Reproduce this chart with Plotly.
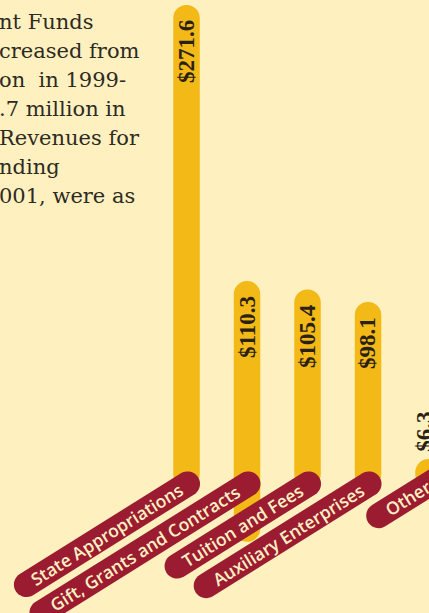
import math
import plotly.graph_objects as go

# ---------------- data ----------------
categories = ["State Appropriations", "Gift, Grants and Contracts",
              "Tuition and Fees", "Auxiliary Enterprises", "Other"]
values = [271.6, 110.3, 105.4, 98.1, 6.3]
value_labels = ["$271.6", "$110.3", "$105.4", "$98.1", "$6.3"]
intro_lines = ["nt Funds", "creased from", "on  in 1999-", ".7 million in",
               "Revenues for", "nding", "001, were as"]

# ---------------- style ----------------
W, H = 429, 613
BG = "#FEF1BF"
BAR = "#F3BA17"
PILL = "#9B1B30"
PILL_TEXT = "#FDF0C4"
INK = "#2A2116"
TEXT_INK = "#2E2A24"
bar_base = [-10, -42, -10, -10, -10]      # how far each stick runs under the tags
pill_len = [190, 243, 155, 192, 80]       # tag length (px, centre to centre of caps)
ANG = 32
R = 12.5
Y_RANGE = [-83.6, 274.5]
X_RANGE = [-3.083, 4.008]
px_per_unit = H / (Y_RANGE[1] - Y_RANGE[0])

x_idx = list(range(len(categories)))

fig = go.Figure()
fig.add_trace(go.Bar(
    x=x_idx,
    y=[v - b for v, b in zip(values, bar_base)],
    base=bar_base,
    width=0.438,
    marker=dict(color=BAR, cornerradius="50%", line=dict(width=0)),
    hoverinfo="skip",
))

# slanted tags
th = math.radians(ANG)
d = (math.cos(th), math.sin(th))
p = (-math.sin(th), math.cos(th))
for i, L in enumerate(pill_len):
    E = (1.0, -14.0)
    if i == len(pill_len) - 1:
        E = (18.0, -3.4)   # last tag runs off the right edge
    S = (E[0] - L * d[0], E[1] - L * d[1])
    pts = []
    for k in range(19):
        a = math.radians(-90 + 10 * k)
        pts.append((E[0] + R * (math.cos(a) * d[0] + math.sin(a) * p[0]),
                    E[1] + R * (math.cos(a) * d[1] + math.sin(a) * p[1])))
    for k in range(19):
        a = math.radians(90 + 10 * k)
        pts.append((S[0] + R * (math.cos(a) * d[0] + math.sin(a) * p[0]),
                    S[1] + R * (math.cos(a) * d[1] + math.sin(a) * p[1])))
    path = "M " + " L ".join(f"{x:.2f},{y:.2f}" for x, y in pts) + " Z"
    fig.add_shape(type="path", path=path, xref="x", yref="y",
                  xsizemode="pixel", ysizemode="pixel", xanchor=i, yanchor=0,
                  fillcolor=PILL, line=dict(width=0), layer="above")
    cx = (E[0] + S[0]) / 2
    cy = (E[1] + S[1]) / 2
    xanchor = "center"
    if i == len(pill_len) - 1:
        # text starts near the lower-left cap
        cx = S[0] + 14 * d[0]
        cy = S[1] + 14 * d[1]
        fig.add_annotation(x=i, y=0, xref="x", yref="y", xshift=cx + 20 * d[0], yshift=cy + 20 * d[1],
                           text=categories[i], textangle=-ANG, showarrow=False,
                           xanchor="center", yanchor="middle",
                           font=dict(family="Open Sans", size=17.5, color=PILL_TEXT, weight=600))
        continue
    fig.add_annotation(x=i, y=0, xref="x", yref="y", xshift=cx, yshift=cy,
                       text=categories[i], textangle=-ANG, showarrow=False,
                       xanchor=xanchor, yanchor="middle",
                       font=dict(family="Open Sans", size=17.5, color=PILL_TEXT, weight=600))

# value labels
for i, (v, lab) in enumerate(zip(values, value_labels)):
    inside = v * px_per_unit > 90
    fig.add_annotation(x=i, y=v, xref="x", yref="y", text=lab, textangle=-90,
                       showarrow=False, xanchor="center",
                       yanchor="top" if inside else "bottom",
                       yshift=-13 if inside else 5,
                       xshift=0 if inside else -4,
                       font=dict(family="Liberation Serif", size=23, color=INK, weight="bold"))

# intro text (cropped paragraph at top-left)
for j, line in enumerate(intro_lines):
    base_px = 29 + 29 * j
    fig.add_annotation(x=0, y=1 - (base_px - 7) / H, xref="paper", yref="paper",
                       xanchor="left", yanchor="middle", xshift=-3, text=line,
                       showarrow=False,
                       font=dict(family="DejaVu Serif", size=21, color=TEXT_INK))

fig.update_layout(
    width=W, height=H, margin=dict(l=0, r=0, t=0, b=0),
    paper_bgcolor=BG, plot_bgcolor=BG, showlegend=False,
    xaxis=dict(range=X_RANGE, visible=False, fixedrange=True),
    yaxis=dict(range=Y_RANGE, visible=False, fixedrange=True),
)
fig.write_html("out.html")
